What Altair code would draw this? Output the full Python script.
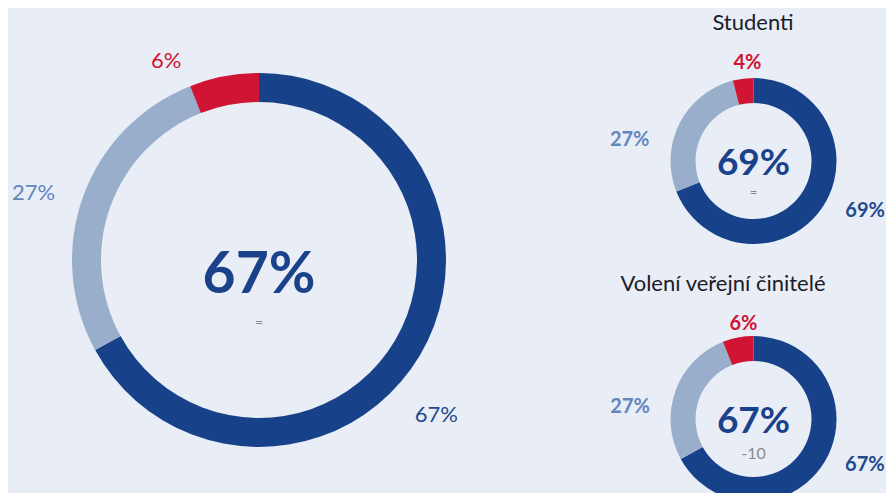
import altair as alt
import pandas as pd

# ---- data ----
categories = ["Souhlasí", "Neví", "Nesouhlasí"]
celkem = [67, 27, 6]
studenti = [69, 27, 4]
voleni = [67, 27, 6]
panel_titles = ["", "Studenti", "Volení veřejní činitelé"]
changes = ["=", "=", "-10"]

# ---- style ----
BG = "#e8edf6"
ARC_COLORS = ["#17428a", "#98aecb", "#d01433"]
LABEL_COLORS = ["#1f4a90", "#6386bd", "#d01433"]
CENTER_COLOR = "#1a428a"
CHANGE_COLOR = "#8a8a8a"
TITLE_COLOR = "#1c1c28"
FONT = "Lato"
OFF = 8  # page margin


def frame(values):
    return pd.DataFrame({
        "kat": categories,
        "hodnota": values,
        "poradi": list(range(len(values))),
        "label": [f"{v}%" for v in values],
    })


def donut(values, change, cx, cy, r_out, r_in, r_lab, lab_size, lab_weight,
          nudges, c_size, c_base, ch_size, ch_y):
    df = frame(values)
    base = alt.Chart(df).encode(
        theta=alt.Theta("hodnota:Q", stack=True),
        order=alt.Order("poradi:Q"),
        x=alt.value(cx - OFF),
        y=alt.value(cy - OFF),
    )
    arcs = base.mark_arc(radius=r_out, radius2=r_in).encode(
        color=alt.Color("kat:N", scale=alt.Scale(domain=categories, range=ARC_COLORS), legend=None)
    )
    out = [arcs]
    # one label mark per category (all rows kept so stacking stays intact)
    for i, cat in enumerate(categories):
        dx, dy = nudges[i]
        lab = base.transform_calculate(
            lbl=f"datum.kat == '{cat}' ? datum.label : ''"
        ).mark_text(radius=r_lab, font=FONT, fontSize=lab_size, fontWeight=lab_weight,
                    baseline="middle", align="center", dx=dx, dy=dy,
                    color=LABEL_COLORS[i]).encode(text="lbl:N")
        out.append(lab)
    cdf = pd.DataFrame({"t": [f"{values[0]}%"], "c": [change]})
    center = alt.Chart(cdf).mark_text(font=FONT, fontSize=c_size, fontWeight="bold",
                                      color=CENTER_COLOR, baseline="alphabetic", align="center").encode(
        text="t:N", x=alt.value(cx - OFF), y=alt.value(c_base - OFF))
    ch = alt.Chart(cdf).mark_text(font=FONT, fontSize=ch_size, color=CHANGE_COLOR,
                                  baseline="middle", align="center").encode(
        text="c:N", x=alt.value(cx - OFF), y=alt.value(ch_y - OFF))
    out += [center, ch]
    return out


def title(text, x, y):
    return alt.Chart(pd.DataFrame({"t": [text]})).mark_text(
        font=FONT, fontSize=22, color=TITLE_COLOR, baseline="alphabetic", align="center"
    ).encode(text="t:N", x=alt.value(x - OFF), y=alt.value(y - OFF))


layers = []
layers += donut(celkem, changes[0], 259, 260, 187, 158, 228, 22, "normal",
                [(-19, 39), (-11, 10), (-50, 25)], 57, 293, 14, 323)
layers += donut(studenti, changes[1], 753.5, 161, 83, 58, 112, 20, "bold",
                [(19, -13), (-24, 30), (8, 13)], 37, 175, 13, 193)
layers += donut(voleni, changes[2], 753.5, 419, 83, 58, 112, 20, "bold",
                [(15, -11), (-18, 26), (11, 15)], 37, 433, 16, 454)
layers.append(title(panel_titles[1], 753, 30))
layers.append(title(panel_titles[2], 723, 291))

chart = alt.layer(*layers).properties(
    width=878, height=485, padding=0, autosize=alt.AutoSizeParams(type="none"),
    background=BG,
).configure_view(stroke=None)

chart.save("out.html", embed_options={"renderer": "svg", "actions": False})
